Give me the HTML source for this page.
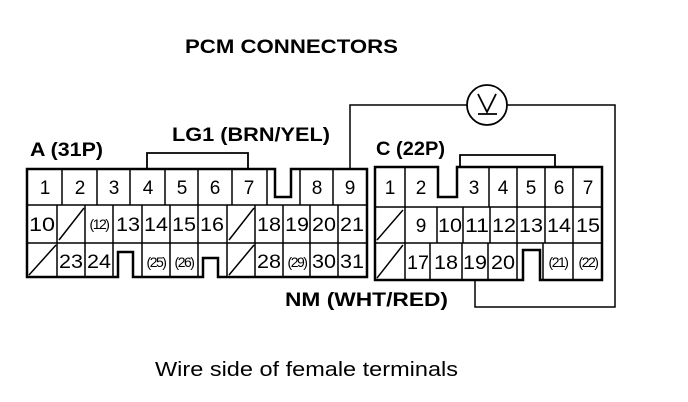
<!DOCTYPE html>
<html><head><meta charset="utf-8"><style>
html,body{margin:0;padding:0;background:#fff;}
svg{display:block;}
text{font-family:"Liberation Sans",Arial,sans-serif;fill:#000;}
.b{font-weight:bold;}
.n{font-size:19px;text-anchor:middle;}
.s{font-size:14px;text-anchor:middle;letter-spacing:-1.5px;}
</style></head><body>
<svg width="688" height="402" viewBox="0 0 688 402" xmlns="http://www.w3.org/2000/svg">
<text x="185" y="53" class="b" font-size="19" textLength="213" lengthAdjust="spacingAndGlyphs">PCM CONNECTORS</text>
<text x="30" y="156" class="b" font-size="19" textLength="73" lengthAdjust="spacingAndGlyphs">A (31P)</text>
<text x="172" y="141" class="b" font-size="19" textLength="158" lengthAdjust="spacingAndGlyphs">LG1 (BRN/YEL)</text>
<text x="376" y="155" class="b" font-size="19" textLength="69" lengthAdjust="spacingAndGlyphs">C (22P)</text>
<text x="285" y="306" class="b" font-size="19" textLength="163" lengthAdjust="spacingAndGlyphs">NM (WHT/RED)</text>
<text x="155" y="376" font-size="20" textLength="303" lengthAdjust="spacingAndGlyphs">Wire side of female terminals</text>

<g fill="none" stroke="#000">
<path d="M350,169 V105 H467 M507,105 H615 V307 H475 V280" stroke-width="1.5"/>
<circle cx="487" cy="105" r="20" stroke-width="1.8"/>
<path d="M478,94 L487,112 L496,94 M478,114 H497" stroke-width="1.8"/>
<path d="M147,169 V153 H248 V169" stroke-width="1.8"/>
<path d="M460,167 V155 H555 V167" stroke-width="1.8"/>

<path d="M27,169 H275 V197 H291 V169 H367 V277 H218 V258 H203 V277 H133 V252 H118 V277 H27 Z" stroke-width="2.5"/>
<g stroke-width="1.5">
<path d="M27,205 H367 M27,243 H367"/>
<path d="M62,169V205 M97,169V205 M130,169V205 M165,169V205 M198,169V205 M232,169V205 M267,169V205 M300,169V205 M333,169V205"/>
<path d="M57,205V243 M85,205V243 M113,205V243 M142,205V243 M170,205V243 M198,205V243 M227,205V243 M255,205V243 M283,205V243 M310,205V243 M338,205V243"/>
<path d="M57,243V277 M85,243V277 M113,243V277 M142,243V277 M170,243V277 M198,243V277 M227,243V277 M255,243V277 M283,243V277 M310,243V277 M338,243V277"/>
<path d="M59,240 L84,208 M229,240 L254,208 M29,275 L56,245 M229,275 L254,245"/>
</g>

<path d="M375,167 H438 V197 H457 V167 H602 V280 H540 V250 H523 V280 H375 Z" stroke-width="2.5"/>
<g stroke-width="1.5">
<path d="M375,207 H602 M375,243 H602"/>
<path d="M405,167V207 M489,167V207 M517,167V207 M545,167V207 M573,167V207"/>
<path d="M405,207V243 M437,207V243 M463,207V243 M490,207V243 M517,207V243 M545,207V243 M573,207V243"/>
<path d="M405,243V280 M430,243V280 M462,243V280 M488,243V280 M517,243V280 M543,243V280 M573,243V280"/>
<path d="M377,240 L403,210 M377,278 L403,245"/>
</g>
</g>

<g class="n">
<text x="45" y="194">1</text><text x="80" y="194">2</text><text x="114" y="194">3</text><text x="148" y="194">4</text><text x="182" y="194">5</text><text x="215" y="194">6</text><text x="249" y="194">7</text><text x="317" y="194">8</text><text x="350" y="194">9</text>
<text x="42" y="231" textLength="26" lengthAdjust="spacingAndGlyphs">10</text><text x="128" y="231" textLength="24" lengthAdjust="spacingAndGlyphs">13</text><text x="156" y="231" textLength="24" lengthAdjust="spacingAndGlyphs">14</text><text x="184" y="231" textLength="24" lengthAdjust="spacingAndGlyphs">15</text><text x="212" y="231" textLength="24" lengthAdjust="spacingAndGlyphs">16</text><text x="269" y="231" textLength="24" lengthAdjust="spacingAndGlyphs">18</text><text x="297" y="231" textLength="24" lengthAdjust="spacingAndGlyphs">19</text><text x="324" y="231" textLength="24" lengthAdjust="spacingAndGlyphs">20</text><text x="352" y="231" textLength="24" lengthAdjust="spacingAndGlyphs">21</text>
<text x="71" y="268" textLength="24" lengthAdjust="spacingAndGlyphs">23</text><text x="99" y="268" textLength="24" lengthAdjust="spacingAndGlyphs">24</text><text x="269" y="268" textLength="24" lengthAdjust="spacingAndGlyphs">28</text><text x="324" y="268" textLength="24" lengthAdjust="spacingAndGlyphs">30</text><text x="352" y="268" textLength="24" lengthAdjust="spacingAndGlyphs">31</text>
</g>
<g class="s">
<text x="99" y="229">(12)</text><text x="156" y="267">(25)</text><text x="184" y="267">(26)</text><text x="297" y="267">(29)</text>
</g>
<g class="n">
<text x="390" y="194">1</text><text x="421" y="194">2</text><text x="474" y="194">3</text><text x="503" y="194">4</text><text x="531" y="194">5</text><text x="559" y="194">6</text><text x="588" y="194">7</text>
<text x="421" y="232">9</text><text x="450" y="232" textLength="24" lengthAdjust="spacingAndGlyphs">10</text><text x="477" y="232" textLength="24" lengthAdjust="spacingAndGlyphs">11</text><text x="504" y="232" textLength="24" lengthAdjust="spacingAndGlyphs">12</text><text x="531" y="232" textLength="24" lengthAdjust="spacingAndGlyphs">13</text><text x="559" y="232" textLength="24" lengthAdjust="spacingAndGlyphs">14</text><text x="588" y="232" textLength="24" lengthAdjust="spacingAndGlyphs">15</text>
<text x="418" y="269" textLength="22" lengthAdjust="spacingAndGlyphs">17</text><text x="446" y="269" textLength="24" lengthAdjust="spacingAndGlyphs">18</text><text x="475" y="269" textLength="24" lengthAdjust="spacingAndGlyphs">19</text><text x="503" y="269" textLength="24" lengthAdjust="spacingAndGlyphs">20</text>
</g>
<g class="s">
<text x="558" y="267">(21)</text><text x="588" y="267">(22)</text>
</g>
</svg>
</body></html>
